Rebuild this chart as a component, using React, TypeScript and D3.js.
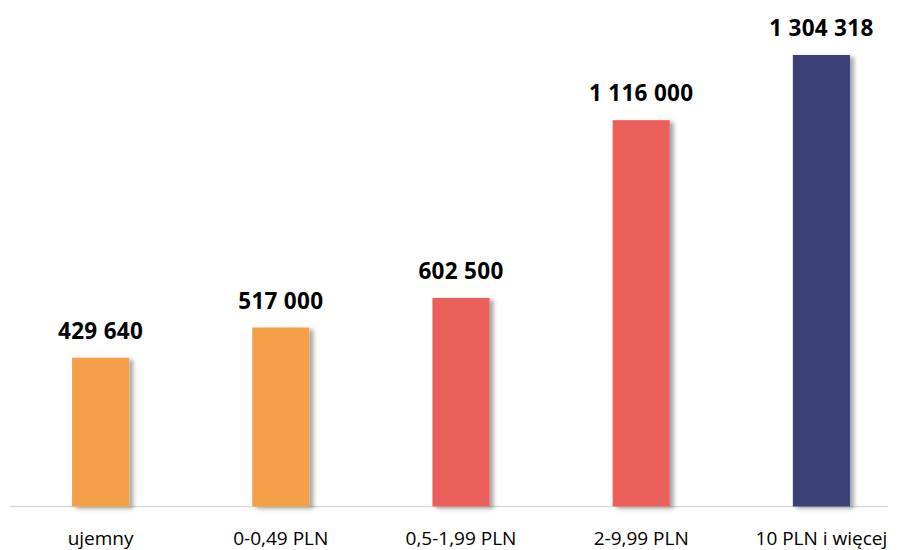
import React from "react";
import * as d3 from "d3";

const categories = ["ujemny", "0-0,49 PLN", "0,5-1,99 PLN", "2-9,99 PLN", "10 PLN i więcej"];
const values = [429640, 517000, 602500, 1116000, 1304318];
const valueLabels = ["429 640", "517 000", "602 500", "1 116 000", "1 304 318"];
const colors = ["#F5A04A", "#F5A04A", "#EC605C", "#EC605C", "#3B4178"];

const width = 898;
const height = 550;
const baseline = 506.5;

export default function App() {
  const x = d3
    .scaleBand<string>()
    .domain(categories)
    .range([10.5, 911.5])
    .paddingInner(0.683)
    .paddingOuter(0.3415);

  const y = d3.scaleLinear().domain([0, 1304318]).range([baseline, 55]);

  return (
    <svg
      width={width}
      height={height}
      style={{ position: "absolute", left: 0, top: 0, background: "#fff" }}
    >
      <defs>
        <filter id="shadow" x="-30%" y="-10%" width="160%" height="120%">
          <feDropShadow dx="4" dy="2" stdDeviation="2" floodColor="#000" floodOpacity="0.35" />
        </filter>
      </defs>
      <line x1={10} x2={888} y1={baseline} y2={baseline} stroke="#D9D9D9" strokeWidth={1.5} />
      {categories.map((c, i) => (
        <g key={c}>
          <rect
            x={x(c)}
            y={y(values[i])}
            width={x.bandwidth()}
            height={baseline - y(values[i])}
            fill={colors[i]}
            filter="url(#shadow)"
          />
          <text
            x={(x(c) ?? 0) + x.bandwidth() / 2}
            y={y(values[i]) - 19}
            textAnchor="middle"
            fontFamily="'Open Sans', sans-serif"
            fontWeight="bold"
            fontSize={22.5}
            letterSpacing={0.3}
            fill="#000"
          >
            {valueLabels[i]}
          </text>
          <text
            x={(x(c) ?? 0) + x.bandwidth() / 2}
            y={545}
            textAnchor="middle"
            fontFamily="'Open Sans', sans-serif"
            fontSize={19}
            fill="#000"
          >
            {c}
          </text>
        </g>
      ))}
    </svg>
  );
}
